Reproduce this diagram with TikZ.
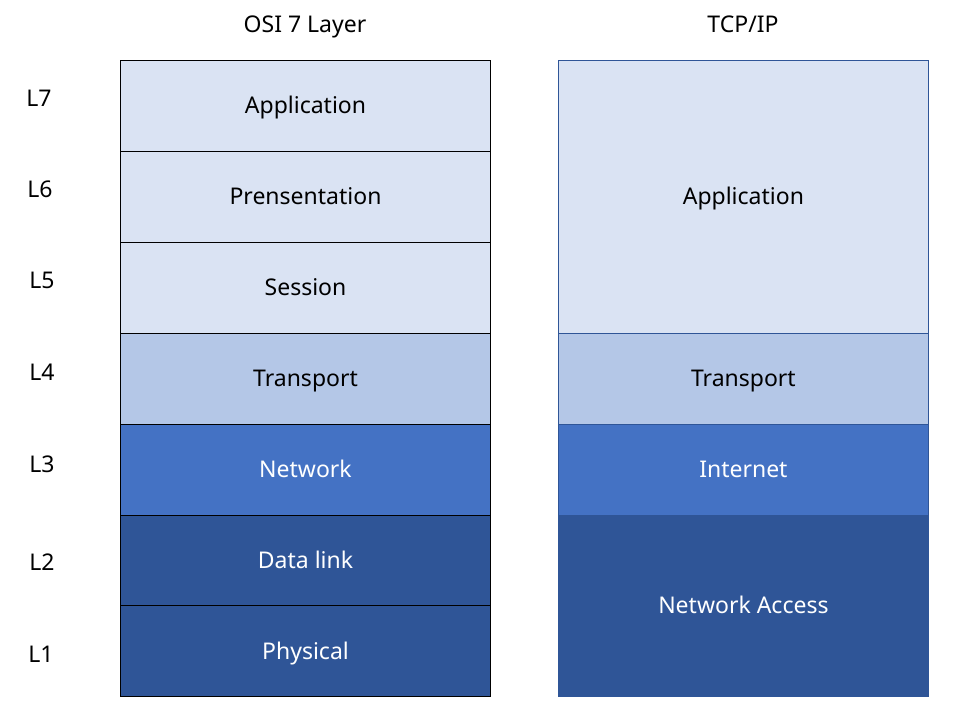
\documentclass[tikz,border=0pt]{standalone}
\usepackage{fontspec}
\setmainfont{Noto Sans}
\definecolor{lay1}{HTML}{DAE3F3}
\definecolor{lay2}{HTML}{B4C7E7}
\definecolor{lay3}{HTML}{4472C4}
\definecolor{lay4}{HTML}{2F5597}
\begin{document}
\begin{tikzpicture}[x=1pt,y=-1pt,
  txt/.style={font=\fontsize{23}{27}\selectfont,text height=16pt,text depth=0pt},
  osi/.style={txt,draw=black,line width=1pt,minimum width=370pt,minimum height=90.9pt,inner sep=0pt,anchor=north west},
  tcp/.style={txt,draw=lay4,line width=0.8pt,minimum width=370pt,inner sep=0pt,anchor=north west},
  lbl/.style={txt,inner sep=0pt},
  lightc/.style={fill=lay1,text=black},
  medc/.style={fill=lay2,text=black},
  bluec/.style={fill=lay3,text=white},
  darkc/.style={fill=lay4,text=white}]
\useasboundingbox (0,0) rectangle (961,713);
\node[lbl] (t1) at (305,24) {OSI 7 Layer};
\node[lbl] (t2) at (743,24) {TCP/IP};
\node[osi,lightc] (o7) at (120,60.0) {Application};
\node[osi,lightc] (o6) at (120,150.9) {Prensentation};
\node[osi,lightc] (o5) at (120,241.8) {Session};
\node[osi,medc] (o4) at (120,332.7) {Transport};
\node[osi,bluec] (o3) at (120,423.6) {Network};
\node[osi,darkc] (o2) at (120,514.5) {Data link};
\node[osi,darkc] (o1) at (120,605.4) {Physical};
\node[tcp,lightc,minimum height=272.7pt] (ta) at (558,60.0) {Application};
\node[tcp,medc,minimum height=90.9pt] (tt) at (558,332.7) {Transport};
\node[tcp,bluec,minimum height=90.9pt] (ti) at (558,423.6) {Internet};
\node[tcp,darkc,minimum height=181.8pt] (tn) at (558,514.5) {Network Access};
\node[lbl] (l7) at (39,98) {L7};
\node[lbl] (l6) at (40,189) {L6};
\node[lbl] (l5) at (42,280) {L5};
\node[lbl] (l4) at (42,372) {L4};
\node[lbl] (l3) at (42,464) {L3};
\node[lbl] (l2) at (42,562) {L2};
\node[lbl] (l1) at (41,654) {L1};
\end{tikzpicture}
\end{document}
